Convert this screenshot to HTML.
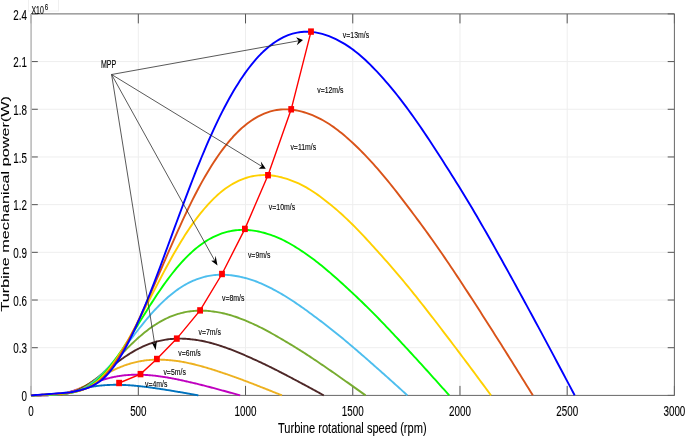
<!DOCTYPE html><html><head><meta charset="utf-8"><style>html,body{margin:0;padding:0;background:#fff;width:685px;height:437px;overflow:hidden}svg{display:block;filter:blur(0.3px)}</style></head><body>
<svg width="685" height="437" viewBox="0 0 685 437" font-family="Liberation Sans, sans-serif">
<rect width="685" height="437" fill="#fff"/>
<rect x="28.5" y="-1" width="30" height="12" fill="none" stroke="#f0f0f0" stroke-width="1"/>
<path d="M138.32 13.90V395.40M245.53 13.90V395.40M352.75 13.90V395.40M459.97 13.90V395.40M567.18 13.90V395.40M31.10 347.71H674.40M31.10 300.02H674.40M31.10 252.34H674.40M31.10 204.65H674.40M31.10 156.96H674.40M31.10 109.27H674.40M31.10 61.59H674.40" stroke="#eeeeee" stroke-width="1" fill="none"/>
<path d="M31.10 395.40v-9.50M31.10 13.90v9.50M138.32 395.40v-9.50M138.32 13.90v9.50M245.53 395.40v-9.50M245.53 13.90v9.50M352.75 395.40v-9.50M352.75 13.90v9.50M459.97 395.40v-9.50M459.97 13.90v9.50M567.18 395.40v-9.50M567.18 13.90v9.50M674.40 395.40v-9.50M674.40 13.90v9.50M31.10 395.40h6.70M674.40 395.40h-6.70M31.10 347.71h6.70M674.40 347.71h-6.70M31.10 300.02h6.70M674.40 300.02h-6.70M31.10 252.34h6.70M674.40 252.34h-6.70M31.10 204.65h6.70M674.40 204.65h-6.70M31.10 156.96h6.70M674.40 156.96h-6.70M31.10 109.27h6.70M674.40 109.27h-6.70M31.10 61.59h6.70M674.40 61.59h-6.70M31.10 13.90h6.70M674.40 13.90h-6.70" stroke="#555" stroke-width="1" fill="none"/>
<path d="M31.10 13.90H674.40V395.40H31.10" stroke="#666" stroke-width="1" fill="none"/>
<path d="M31.10 13.90V395.40" stroke="#bbb" stroke-width="1.6" fill="none"/>
<polyline points="31.10,395.40 31.80,395.39 32.50,395.39 33.20,395.38 33.90,395.38 34.60,395.37 35.30,395.37 36.00,395.36 36.70,395.36 37.40,395.35 38.10,395.35 38.80,395.34 39.50,395.34 40.20,395.33 40.90,395.33 41.60,395.32 42.30,395.32 43.00,395.31 43.70,395.30 44.40,395.29 45.10,395.27 45.80,395.26 46.50,395.24 47.19,395.22 47.89,395.20 48.59,395.18 49.29,395.15 49.99,395.12 50.69,395.09 51.39,395.05 52.09,395.00 52.79,394.95 53.49,394.89 54.19,394.83 54.89,394.76 55.59,394.68 56.29,394.59 56.99,394.50 57.69,394.40 58.39,394.30 59.09,394.19 59.79,394.07 60.49,393.95 61.19,393.83 61.89,393.69 62.59,393.56 63.29,393.41 63.99,393.27 64.69,393.12 65.39,392.96 66.09,392.80 66.79,392.64 67.49,392.48 68.19,392.31 68.89,392.14 69.59,391.96 70.29,391.79 70.99,391.61 71.69,391.43 72.39,391.25 73.09,391.07 73.79,390.89 74.49,390.71 75.19,390.53 75.89,390.35 76.59,390.17 77.29,389.99 77.99,389.81 78.68,389.64 79.38,389.46 80.08,389.29 80.78,389.12 81.48,388.95 82.18,388.78 82.88,388.62 83.58,388.46 84.28,388.30 84.98,388.14 85.68,387.99 86.38,387.84 87.08,387.69 87.78,387.55 88.48,387.41 89.18,387.27 89.88,387.14 90.58,387.01 91.28,386.89 91.98,386.77 92.68,386.65 93.38,386.53 94.08,386.42 94.78,386.32 95.48,386.21 96.18,386.12 96.88,386.02 97.58,385.93 98.28,385.84 98.98,385.75 99.68,385.67 100.38,385.60 101.08,385.52 101.78,385.46 102.48,385.39 103.18,385.33 103.88,385.27 104.58,385.22 105.28,385.17 105.98,385.12 106.68,385.08 107.38,385.04 108.08,385.00 108.78,384.97 109.48,384.93 110.17,384.91 110.87,384.88 111.57,384.86 112.27,384.85 112.97,384.83 113.67,384.82 114.37,384.81 115.07,384.81 115.77,384.80 116.47,384.81 117.17,384.81 117.87,384.82 118.57,384.83 119.27,384.84 119.97,384.85 120.67,384.87 121.37,384.89 122.07,384.91 122.77,384.94 123.47,384.96 124.17,384.99 124.87,385.02 125.57,385.06 126.27,385.09 126.97,385.13 127.67,385.17 128.37,385.21 129.07,385.25 129.77,385.30 130.47,385.35 131.17,385.40 131.87,385.45 132.57,385.51 133.27,385.57 133.97,385.63 134.67,385.69 135.37,385.76 136.07,385.83 136.77,385.89 137.47,385.96 138.17,386.03 138.87,386.11 139.57,386.18 140.27,386.26 140.97,386.33 141.66,386.41 142.36,386.49 143.06,386.57 143.76,386.66 144.46,386.74 145.16,386.83 145.86,386.91 146.56,387.00 147.26,387.09 147.96,387.18 148.66,387.28 149.36,387.37 150.06,387.46 150.76,387.56 151.46,387.66 152.16,387.76 152.86,387.86 153.56,387.96 154.26,388.06 154.96,388.16 155.66,388.26 156.36,388.36 157.06,388.46 157.76,388.57 158.46,388.67 159.16,388.77 159.86,388.88 160.56,388.98 161.26,389.09 161.96,389.20 162.66,389.30 163.36,389.41 164.06,389.52 164.76,389.63 165.46,389.74 166.16,389.85 166.86,389.96 167.56,390.07 168.26,390.18 168.96,390.30 169.66,390.41 170.36,390.53 171.06,390.64 171.76,390.76 172.46,390.87 173.15,390.99 173.85,391.11 174.55,391.23 175.25,391.35 175.95,391.47 176.65,391.58 177.35,391.70 178.05,391.82 178.75,391.94 179.45,392.06 180.15,392.19 180.85,392.31 181.55,392.43 182.25,392.55 182.95,392.67 183.65,392.79 184.35,392.91 185.05,393.04 185.75,393.16 186.45,393.28 187.15,393.41 187.85,393.53 188.55,393.65 189.25,393.78 189.95,393.90 190.65,394.02 191.35,394.15 192.05,394.27 192.75,394.40 193.45,394.52 194.15,394.65 194.85,394.77 195.55,394.90 196.25,395.02 196.95,395.15 197.65,395.27 198.35,395.40" fill="none" stroke="#0072BD" stroke-width="1.9" stroke-linejoin="round"/>
<polyline points="31.10,395.40 31.97,395.39 32.85,395.38 33.72,395.37 34.60,395.36 35.47,395.35 36.35,395.34 37.22,395.33 38.10,395.32 38.97,395.31 39.85,395.30 40.72,395.29 41.60,395.28 42.47,395.27 43.35,395.26 44.22,395.25 45.10,395.24 45.97,395.23 46.85,395.21 47.72,395.18 48.59,395.15 49.47,395.12 50.34,395.09 51.22,395.05 52.09,395.01 52.97,394.97 53.84,394.91 54.72,394.85 55.59,394.79 56.47,394.71 57.34,394.62 58.22,394.52 59.09,394.41 59.97,394.28 60.84,394.15 61.72,393.99 62.59,393.83 63.46,393.65 64.34,393.46 65.21,393.25 66.09,393.04 66.96,392.81 67.84,392.57 68.71,392.33 69.59,392.07 70.46,391.80 71.34,391.52 72.21,391.24 73.09,390.94 73.96,390.64 74.84,390.33 75.71,390.01 76.59,389.69 77.46,389.36 78.34,389.02 79.21,388.68 80.08,388.34 80.96,387.99 81.83,387.64 82.71,387.29 83.58,386.94 84.46,386.59 85.33,386.24 86.21,385.89 87.08,385.53 87.96,385.18 88.83,384.84 89.71,384.49 90.58,384.14 91.46,383.80 92.33,383.46 93.21,383.13 94.08,382.80 94.95,382.47 95.83,382.15 96.70,381.84 97.58,381.53 98.45,381.22 99.33,380.92 100.20,380.63 101.08,380.35 101.95,380.07 102.83,379.79 103.70,379.53 104.58,379.27 105.45,379.02 106.33,378.77 107.20,378.54 108.08,378.31 108.95,378.09 109.83,377.87 110.70,377.66 111.57,377.46 112.45,377.27 113.32,377.08 114.20,376.90 115.07,376.73 115.95,376.56 116.82,376.40 117.70,376.25 118.57,376.11 119.45,375.98 120.32,375.85 121.20,375.73 122.07,375.62 122.95,375.51 123.82,375.41 124.70,375.32 125.57,375.24 126.44,375.16 127.32,375.09 128.19,375.02 129.07,374.96 129.94,374.91 130.82,374.86 131.69,374.82 132.57,374.79 133.44,374.76 134.32,374.74 135.19,374.72 136.07,374.71 136.94,374.71 137.82,374.71 138.69,374.72 139.57,374.73 140.44,374.75 141.32,374.77 142.19,374.80 143.06,374.83 143.94,374.87 144.81,374.92 145.69,374.96 146.56,375.02 147.44,375.07 148.31,375.13 149.19,375.20 150.06,375.27 150.94,375.34 151.81,375.42 152.69,375.50 153.56,375.58 154.44,375.67 155.31,375.77 156.19,375.87 157.06,375.98 157.93,376.09 158.81,376.20 159.68,376.32 160.56,376.44 161.43,376.57 162.31,376.70 163.18,376.83 164.06,376.97 164.93,377.11 165.81,377.25 166.68,377.40 167.56,377.54 168.43,377.69 169.31,377.85 170.18,378.00 171.06,378.16 171.93,378.32 172.81,378.49 173.68,378.65 174.55,378.82 175.43,379.00 176.30,379.17 177.18,379.35 178.05,379.53 178.93,379.71 179.80,379.90 180.68,380.09 181.55,380.28 182.43,380.47 183.30,380.66 184.18,380.86 185.05,381.06 185.93,381.25 186.80,381.45 187.68,381.65 188.55,381.85 189.42,382.06 190.30,382.26 191.17,382.46 192.05,382.66 192.92,382.87 193.80,383.07 194.67,383.28 195.55,383.49 196.42,383.70 197.30,383.91 198.17,384.12 199.05,384.34 199.92,384.55 200.80,384.77 201.67,384.99 202.55,385.21 203.42,385.43 204.30,385.66 205.17,385.88 206.04,386.11 206.92,386.33 207.79,386.56 208.67,386.79 209.54,387.02 210.42,387.25 211.29,387.48 212.17,387.71 213.04,387.95 213.92,388.18 214.79,388.42 215.67,388.65 216.54,388.89 217.42,389.12 218.29,389.36 219.17,389.59 220.04,389.83 220.91,390.07 221.79,390.31 222.66,390.55 223.54,390.78 224.41,391.02 225.29,391.26 226.16,391.50 227.04,391.74 227.91,391.99 228.79,392.23 229.66,392.47 230.54,392.71 231.41,392.95 232.29,393.20 233.16,393.44 234.04,393.68 234.91,393.93 235.79,394.17 236.66,394.42 237.53,394.66 238.41,394.90 239.28,395.15 240.16,395.39" fill="none" stroke="#BF00BF" stroke-width="1.9" stroke-linejoin="round"/>
<polyline points="31.10,395.40 32.15,395.38 33.20,395.37 34.25,395.35 35.30,395.33 36.35,395.31 37.40,395.30 38.45,395.28 39.50,395.26 40.55,395.25 41.60,395.23 42.65,395.21 43.70,395.19 44.75,395.18 45.80,395.16 46.85,395.14 47.89,395.13 48.94,395.11 49.99,395.06 51.04,395.02 52.09,394.97 53.14,394.92 54.19,394.86 55.24,394.80 56.29,394.73 57.34,394.65 58.39,394.56 59.44,394.46 60.49,394.34 61.54,394.21 62.59,394.05 63.64,393.88 64.69,393.69 65.74,393.47 66.79,393.23 67.84,392.97 68.89,392.68 69.94,392.37 70.99,392.04 72.04,391.69 73.09,391.32 74.14,390.93 75.19,390.52 76.24,390.09 77.29,389.64 78.34,389.18 79.38,388.70 80.43,388.21 81.48,387.70 82.53,387.17 83.58,386.64 84.63,386.09 85.68,385.53 86.73,384.96 87.78,384.38 88.83,383.79 89.88,383.20 90.93,382.60 91.98,382.00 93.03,381.39 94.08,380.78 95.13,380.18 96.18,379.57 97.23,378.96 98.28,378.35 99.33,377.75 100.38,377.15 101.43,376.55 102.48,375.95 103.53,375.36 104.58,374.78 105.63,374.20 106.68,373.63 107.73,373.06 108.78,372.51 109.83,371.96 110.87,371.43 111.92,370.90 112.97,370.38 114.02,369.88 115.07,369.39 116.12,368.90 117.17,368.43 118.22,367.97 119.27,367.53 120.32,367.09 121.37,366.67 122.42,366.26 123.47,365.86 124.52,365.48 125.57,365.11 126.62,364.75 127.67,364.40 128.72,364.06 129.77,363.74 130.82,363.43 131.87,363.13 132.92,362.85 133.97,362.58 135.02,362.32 136.07,362.07 137.12,361.84 138.17,361.62 139.22,361.41 140.27,361.22 141.32,361.04 142.36,360.87 143.41,360.71 144.46,360.56 145.51,360.42 146.56,360.30 147.61,360.18 148.66,360.08 149.71,359.99 150.76,359.91 151.81,359.84 152.86,359.78 153.91,359.73 154.96,359.69 156.01,359.66 157.06,359.65 158.11,359.64 159.16,359.64 160.21,359.66 161.26,359.68 162.31,359.71 163.36,359.75 164.41,359.80 165.46,359.86 166.51,359.93 167.56,360.00 168.61,360.09 169.66,360.18 170.71,360.27 171.76,360.38 172.81,360.49 173.85,360.61 174.90,360.74 175.95,360.87 177.00,361.01 178.05,361.16 179.10,361.31 180.15,361.48 181.20,361.65 182.25,361.83 183.30,362.02 184.35,362.22 185.40,362.43 186.45,362.64 187.50,362.86 188.55,363.08 189.60,363.32 190.65,363.55 191.70,363.79 192.75,364.04 193.80,364.29 194.85,364.54 195.90,364.80 196.95,365.07 198.00,365.34 199.05,365.61 200.10,365.89 201.15,366.17 202.20,366.46 203.25,366.76 204.30,367.06 205.34,367.36 206.39,367.67 207.44,367.98 208.49,368.30 209.54,368.62 210.59,368.94 211.64,369.27 212.69,369.60 213.74,369.94 214.79,370.27 215.84,370.61 216.89,370.96 217.94,371.30 218.99,371.65 220.04,371.99 221.09,372.34 222.14,372.69 223.19,373.04 224.24,373.39 225.29,373.75 226.34,374.10 227.39,374.46 228.44,374.82 229.49,375.18 230.54,375.55 231.59,375.92 232.64,376.29 233.69,376.66 234.74,377.04 235.79,377.41 236.83,377.79 237.88,378.18 238.93,378.56 239.98,378.95 241.03,379.34 242.08,379.73 243.13,380.13 244.18,380.52 245.23,380.92 246.28,381.32 247.33,381.72 248.38,382.12 249.43,382.52 250.48,382.93 251.53,383.33 252.58,383.74 253.63,384.14 254.68,384.55 255.73,384.96 256.78,385.37 257.83,385.78 258.88,386.19 259.93,386.60 260.98,387.01 262.03,387.42 263.08,387.84 264.13,388.25 265.18,388.67 266.23,389.08 267.28,389.50 268.32,389.92 269.37,390.33 270.42,390.75 271.47,391.17 272.52,391.59 273.57,392.01 274.62,392.43 275.67,392.85 276.72,393.28 277.77,393.70 278.82,394.12 279.87,394.54 280.92,394.97 281.97,395.39" fill="none" stroke="#EDB120" stroke-width="1.9" stroke-linejoin="round"/>
<polyline points="31.10,395.40 32.32,395.37 33.55,395.35 34.77,395.32 36.00,395.29 37.22,395.26 38.45,395.24 39.67,395.21 40.90,395.18 42.12,395.15 43.35,395.13 44.57,395.10 45.80,395.07 47.02,395.05 48.24,395.02 49.47,394.99 50.69,394.96 51.92,394.94 53.14,394.87 54.37,394.79 55.59,394.71 56.82,394.63 58.04,394.54 59.27,394.44 60.49,394.33 61.72,394.21 62.94,394.07 64.16,393.90 65.39,393.72 66.61,393.51 67.84,393.26 69.06,392.99 70.29,392.68 71.51,392.34 72.74,391.96 73.96,391.54 75.19,391.08 76.41,390.59 77.64,390.07 78.86,389.51 80.08,388.92 81.31,388.30 82.53,387.65 83.76,386.97 84.98,386.26 86.21,385.52 87.43,384.76 88.66,383.98 89.88,383.17 91.11,382.34 92.33,381.49 93.56,380.61 94.78,379.73 96.00,378.82 97.23,377.90 98.45,376.97 99.68,376.03 100.90,375.08 102.13,374.12 103.35,373.16 104.58,372.19 105.80,371.23 107.03,370.26 108.25,369.29 109.48,368.33 110.70,367.37 111.92,366.41 113.15,365.46 114.37,364.52 115.60,363.58 116.82,362.65 118.05,361.73 119.27,360.82 120.50,359.93 121.72,359.05 122.95,358.18 124.17,357.33 125.40,356.49 126.62,355.68 127.84,354.87 129.07,354.09 130.29,353.32 131.52,352.58 132.74,351.85 133.97,351.14 135.19,350.45 136.42,349.78 137.64,349.13 138.87,348.50 140.09,347.89 141.32,347.30 142.54,346.73 143.76,346.17 144.99,345.64 146.21,345.13 147.44,344.63 148.66,344.16 149.89,343.71 151.11,343.28 152.34,342.87 153.56,342.48 154.79,342.11 156.01,341.76 157.23,341.43 158.46,341.12 159.68,340.83 160.91,340.56 162.13,340.31 163.36,340.07 164.58,339.86 165.81,339.66 167.03,339.48 168.26,339.31 169.48,339.17 170.71,339.04 171.93,338.93 173.15,338.83 174.38,338.76 175.60,338.70 176.83,338.65 178.05,338.63 179.28,338.62 180.50,338.62 181.73,338.64 182.95,338.68 184.18,338.73 185.40,338.80 186.63,338.88 187.85,338.97 189.07,339.07 190.30,339.19 191.52,339.32 192.75,339.47 193.97,339.62 195.20,339.79 196.42,339.97 197.65,340.15 198.87,340.35 200.10,340.57 201.32,340.79 202.55,341.02 203.77,341.27 204.99,341.53 206.22,341.81 207.44,342.10 208.67,342.40 209.89,342.72 211.12,343.04 212.34,343.38 213.57,343.73 214.79,344.08 216.02,344.45 217.24,344.83 218.47,345.21 219.69,345.60 220.91,345.99 222.14,346.40 223.36,346.81 224.59,347.23 225.81,347.66 227.04,348.10 228.26,348.54 229.49,348.99 230.71,349.45 231.94,349.92 233.16,350.39 234.39,350.87 235.61,351.36 236.83,351.86 238.06,352.36 239.28,352.87 240.51,353.38 241.73,353.91 242.96,354.43 244.18,354.96 245.41,355.50 246.63,356.04 247.86,356.58 249.08,357.13 250.31,357.68 251.53,358.23 252.75,358.78 253.98,359.34 255.20,359.89 256.43,360.45 257.65,361.01 258.88,361.58 260.10,362.15 261.33,362.72 262.55,363.30 263.78,363.88 265.00,364.46 266.23,365.05 267.45,365.64 268.67,366.24 269.90,366.84 271.12,367.44 272.35,368.05 273.57,368.66 274.80,369.28 276.02,369.90 277.25,370.52 278.47,371.15 279.70,371.78 280.92,372.41 282.15,373.04 283.37,373.68 284.59,374.31 285.82,374.95 287.04,375.59 288.27,376.23 289.49,376.88 290.72,377.52 291.94,378.17 293.17,378.82 294.39,379.47 295.62,380.12 296.84,380.77 298.07,381.42 299.29,382.08 300.51,382.73 301.74,383.39 302.96,384.05 304.19,384.71 305.41,385.37 306.64,386.03 307.86,386.69 309.09,387.36 310.31,388.02 311.54,388.69 312.76,389.35 313.99,390.02 315.21,390.69 316.43,391.36 317.66,392.03 318.88,392.70 320.11,393.37 321.33,394.04 322.56,394.71 323.78,395.38" fill="none" stroke="#4D2727" stroke-width="1.9" stroke-linejoin="round"/>
<polyline points="31.10,395.40 32.50,395.36 33.90,395.32 35.30,395.28 36.70,395.24 38.10,395.20 39.50,395.16 40.90,395.12 42.30,395.07 43.70,395.03 45.10,394.99 46.50,394.95 47.89,394.91 49.29,394.87 50.69,394.83 52.09,394.79 53.49,394.75 54.89,394.71 56.29,394.61 57.69,394.49 59.09,394.37 60.49,394.25 61.89,394.12 63.29,393.97 64.69,393.81 66.09,393.62 67.49,393.41 68.89,393.17 70.29,392.89 71.69,392.57 73.09,392.21 74.49,391.80 75.89,391.34 77.29,390.83 78.68,390.26 80.08,389.64 81.48,388.96 82.88,388.22 84.28,387.44 85.68,386.61 87.08,385.73 88.48,384.80 89.88,383.83 91.28,382.81 92.68,381.75 94.08,380.66 95.48,379.52 96.88,378.35 98.28,377.14 99.68,375.90 101.08,374.63 102.48,373.33 103.88,372.00 105.28,370.65 106.68,369.28 108.08,367.89 109.48,366.48 110.87,365.06 112.27,363.63 113.67,362.20 115.07,360.76 116.47,359.32 117.87,357.87 119.27,356.43 120.67,354.99 122.07,353.56 123.47,352.13 124.87,350.71 126.27,349.30 127.67,347.90 129.07,346.51 130.47,345.14 131.87,343.79 133.27,342.45 134.67,341.13 136.07,339.84 137.47,338.57 138.87,337.33 140.27,336.10 141.66,334.91 143.06,333.74 144.46,332.59 145.86,331.48 147.26,330.39 148.66,329.33 150.06,328.30 151.46,327.30 152.86,326.33 154.26,325.39 155.66,324.48 157.06,323.60 158.46,322.74 159.86,321.92 161.26,321.12 162.66,320.36 164.06,319.62 165.46,318.91 166.86,318.24 168.26,317.60 169.66,316.98 171.06,316.40 172.46,315.85 173.85,315.33 175.25,314.84 176.65,314.38 178.05,313.94 179.45,313.54 180.85,313.16 182.25,312.81 183.65,312.49 185.05,312.19 186.45,311.92 187.85,311.68 189.25,311.46 190.65,311.27 192.05,311.10 193.45,310.96 194.85,310.85 196.25,310.76 197.65,310.69 199.05,310.65 200.45,310.64 201.85,310.65 203.25,310.68 204.64,310.73 206.04,310.81 207.44,310.91 208.84,311.02 210.24,311.16 211.64,311.32 213.04,311.50 214.44,311.69 215.84,311.91 217.24,312.14 218.64,312.39 220.04,312.65 221.44,312.93 222.84,313.23 224.24,313.55 225.64,313.88 227.04,314.23 228.44,314.60 229.84,314.99 231.24,315.41 232.64,315.84 234.04,316.29 235.44,316.76 236.83,317.25 238.23,317.75 239.63,318.27 241.03,318.80 242.43,319.35 243.83,319.91 245.23,320.48 246.63,321.06 248.03,321.65 249.43,322.26 250.83,322.87 252.23,323.50 253.63,324.14 255.03,324.79 256.43,325.45 257.83,326.12 259.23,326.81 260.63,327.51 262.03,328.22 263.43,328.93 264.83,329.66 266.23,330.40 267.62,331.15 269.02,331.91 270.42,332.68 271.82,333.46 273.22,334.25 274.62,335.04 276.02,335.84 277.42,336.65 278.82,337.46 280.22,338.27 281.62,339.09 283.02,339.91 284.42,340.74 285.82,341.57 287.22,342.40 288.62,343.23 290.02,344.07 291.42,344.91 292.82,345.76 294.22,346.62 295.62,347.48 297.02,348.34 298.42,349.22 299.81,350.09 301.21,350.98 302.61,351.87 304.01,352.77 305.41,353.67 306.81,354.58 308.21,355.49 309.61,356.41 311.01,357.34 312.41,358.26 313.81,359.20 315.21,360.14 316.61,361.08 318.01,362.02 319.41,362.97 320.81,363.92 322.21,364.88 323.61,365.83 325.01,366.79 326.41,367.75 327.81,368.72 329.21,369.68 330.60,370.65 332.00,371.62 333.40,372.59 334.80,373.56 336.20,374.54 337.60,375.52 339.00,376.49 340.40,377.47 341.80,378.46 343.20,379.44 344.60,380.43 346.00,381.41 347.40,382.40 348.80,383.39 350.20,384.38 351.60,385.38 353.00,386.37 354.40,387.37 355.80,388.37 357.20,389.37 358.60,390.37 360.00,391.37 361.40,392.37 362.79,393.37 364.19,394.37 365.59,395.37" fill="none" stroke="#77AC30" stroke-width="1.9" stroke-linejoin="round"/>
<polyline points="31.10,395.40 32.67,395.34 34.25,395.28 35.82,395.23 37.40,395.17 38.97,395.11 40.55,395.05 42.12,394.99 43.70,394.94 45.27,394.88 46.85,394.82 48.42,394.76 49.99,394.70 51.57,394.65 53.14,394.59 54.72,394.53 56.29,394.47 57.87,394.41 59.44,394.27 61.02,394.11 62.59,393.94 64.16,393.76 65.74,393.57 67.31,393.36 68.89,393.13 70.46,392.87 72.04,392.56 73.61,392.22 75.19,391.82 76.76,391.37 78.34,390.86 79.91,390.28 81.48,389.62 83.06,388.89 84.63,388.08 86.21,387.19 87.78,386.22 89.36,385.18 90.93,384.06 92.51,382.88 94.08,381.63 95.65,380.31 97.23,378.92 98.80,377.48 100.38,375.97 101.95,374.41 103.53,372.79 105.10,371.12 106.68,369.40 108.25,367.63 109.83,365.83 111.40,363.98 112.97,362.09 114.55,360.17 116.12,358.21 117.70,356.23 119.27,354.22 120.85,352.20 122.42,350.17 124.00,348.12 125.57,346.07 127.14,344.02 128.72,341.97 130.29,339.92 131.87,337.87 133.44,335.82 135.02,333.79 136.59,331.77 138.17,329.76 139.74,327.77 141.32,325.79 142.89,323.84 144.46,321.91 146.04,320.01 147.61,318.14 149.19,316.29 150.76,314.49 152.34,312.71 153.91,310.97 155.49,309.27 157.06,307.60 158.63,305.97 160.21,304.38 161.78,302.83 163.36,301.32 164.93,299.86 166.51,298.44 168.08,297.05 169.66,295.72 171.23,294.42 172.81,293.16 174.38,291.95 175.95,290.78 177.53,289.64 179.10,288.55 180.68,287.50 182.25,286.50 183.83,285.54 185.40,284.62 186.98,283.75 188.55,282.92 190.12,282.13 191.70,281.39 193.27,280.69 194.85,280.04 196.42,279.42 198.00,278.85 199.57,278.31 201.15,277.81 202.72,277.35 204.30,276.93 205.87,276.54 207.44,276.19 209.02,275.88 210.59,275.61 212.17,275.37 213.74,275.17 215.32,275.01 216.89,274.89 218.47,274.79 220.04,274.74 221.61,274.72 223.19,274.73 224.76,274.77 226.34,274.85 227.91,274.96 229.49,275.10 231.06,275.26 232.64,275.46 234.21,275.69 235.79,275.94 237.36,276.22 238.93,276.52 240.51,276.85 242.08,277.21 243.66,277.58 245.23,277.98 246.81,278.41 248.38,278.86 249.96,279.33 251.53,279.83 253.10,280.36 254.68,280.92 256.25,281.50 257.83,282.12 259.40,282.76 260.98,283.43 262.55,284.12 264.13,284.84 265.70,285.58 267.28,286.34 268.85,287.11 270.42,287.91 272.00,288.72 273.57,289.55 275.15,290.40 276.72,291.26 278.30,292.13 279.87,293.03 281.45,293.93 283.02,294.86 284.59,295.80 286.17,296.76 287.74,297.74 289.32,298.73 290.89,299.74 292.47,300.76 294.04,301.80 295.62,302.86 297.19,303.92 298.77,305.00 300.34,306.10 301.91,307.21 303.49,308.33 305.06,309.46 306.64,310.60 308.21,311.75 309.79,312.90 311.36,314.06 312.94,315.23 314.51,316.40 316.08,317.57 317.66,318.75 319.23,319.93 320.81,321.12 322.38,322.32 323.96,323.52 325.53,324.72 327.11,325.94 328.68,327.17 330.26,328.40 331.83,329.64 333.40,330.89 334.98,332.15 336.55,333.42 338.13,334.70 339.70,335.98 341.28,337.27 342.85,338.58 344.43,339.89 346.00,341.20 347.57,342.53 349.15,343.86 350.72,345.19 352.30,346.53 353.87,347.88 355.45,349.23 357.02,350.58 358.60,351.94 360.17,353.30 361.75,354.66 363.32,356.03 364.89,357.41 366.47,358.78 368.04,360.16 369.62,361.54 371.19,362.92 372.77,364.31 374.34,365.70 375.92,367.09 377.49,368.48 379.06,369.88 380.64,371.28 382.21,372.68 383.79,374.08 385.36,375.48 386.94,376.89 388.51,378.30 390.09,379.71 391.66,381.13 393.24,382.55 394.81,383.97 396.38,385.39 397.96,386.81 399.53,388.23 401.11,389.66 402.68,391.08 404.26,392.51 405.83,393.93 407.41,395.36" fill="none" stroke="#4DBEEE" stroke-width="1.9" stroke-linejoin="round"/>
<polyline points="31.10,395.40 32.85,395.32 34.60,395.24 36.35,395.16 38.10,395.08 39.85,395.00 41.60,394.92 43.35,394.84 45.10,394.76 46.85,394.68 48.59,394.60 50.34,394.53 52.09,394.45 53.84,394.37 55.59,394.29 57.34,394.21 59.09,394.13 60.84,394.05 62.59,393.85 64.34,393.63 66.09,393.40 67.84,393.16 69.59,392.89 71.34,392.61 73.09,392.29 74.84,391.92 76.59,391.51 78.34,391.04 80.08,390.49 81.83,389.88 83.58,389.17 85.33,388.37 87.08,387.48 88.83,386.47 90.58,385.36 92.33,384.14 94.08,382.81 95.83,381.38 97.58,379.85 99.33,378.22 101.08,376.50 102.83,374.70 104.58,372.80 106.33,370.81 108.08,368.75 109.83,366.60 111.57,364.38 113.32,362.09 115.07,359.73 116.82,357.31 118.57,354.83 120.32,352.29 122.07,349.71 123.82,347.07 125.57,344.39 127.32,341.67 129.07,338.92 130.82,336.14 132.57,333.35 134.32,330.55 136.07,327.74 137.82,324.92 139.57,322.11 141.32,319.29 143.06,316.48 144.81,313.68 146.56,310.89 148.31,308.11 150.06,305.36 151.81,302.63 153.56,299.92 155.31,297.24 157.06,294.59 158.81,291.98 160.56,289.41 162.31,286.89 164.06,284.41 165.81,281.97 167.56,279.59 169.31,277.25 171.06,274.96 172.81,272.73 174.55,270.55 176.30,268.42 178.05,266.35 179.80,264.34 181.55,262.39 183.30,260.50 185.05,258.66 186.80,256.88 188.55,255.16 190.30,253.49 192.05,251.88 193.80,250.33 195.55,248.83 197.30,247.39 199.05,246.01 200.80,244.70 202.55,243.44 204.30,242.24 206.04,241.10 207.79,240.02 209.54,239.01 211.29,238.05 213.04,237.15 214.79,236.31 216.54,235.52 218.29,234.78 220.04,234.10 221.79,233.47 223.54,232.88 225.29,232.36 227.04,231.88 228.79,231.45 230.54,231.08 232.29,230.75 234.04,230.48 235.79,230.26 237.53,230.09 239.28,229.96 241.03,229.88 242.78,229.85 244.53,229.87 246.28,229.93 248.03,230.03 249.78,230.18 251.53,230.37 253.28,230.60 255.03,230.88 256.78,231.18 258.53,231.53 260.28,231.91 262.03,232.33 263.78,232.78 265.53,233.27 267.28,233.79 269.02,234.34 270.77,234.92 272.52,235.53 274.27,236.18 276.02,236.87 277.77,237.60 279.52,238.36 281.27,239.16 283.02,240.00 284.77,240.88 286.52,241.80 288.27,242.75 290.02,243.74 291.77,244.75 293.52,245.79 295.27,246.86 297.02,247.95 298.77,249.07 300.51,250.20 302.26,251.36 304.01,252.54 305.76,253.74 307.51,254.97 309.26,256.22 311.01,257.49 312.76,258.78 314.51,260.09 316.26,261.43 318.01,262.80 319.76,264.18 321.51,265.58 323.26,267.01 325.01,268.45 326.76,269.92 328.51,271.40 330.26,272.90 332.00,274.42 333.75,275.96 335.50,277.51 337.25,279.07 339.00,280.65 340.75,282.23 342.50,283.82 344.25,285.42 346.00,287.03 347.75,288.64 349.50,290.26 351.25,291.88 353.00,293.51 354.75,295.15 356.50,296.79 358.25,298.45 360.00,300.12 361.75,301.80 363.49,303.49 365.24,305.20 366.99,306.91 368.74,308.64 370.49,310.38 372.24,312.13 373.99,313.89 375.74,315.67 377.49,317.45 379.24,319.25 380.99,321.05 382.74,322.87 384.49,324.69 386.24,326.53 387.99,328.37 389.74,330.21 391.49,332.06 393.24,333.92 394.98,335.78 396.73,337.65 398.48,339.52 400.23,341.40 401.98,343.28 403.73,345.17 405.48,347.06 407.23,348.95 408.98,350.85 410.73,352.75 412.48,354.66 414.23,356.56 415.98,358.47 417.73,360.39 419.48,362.31 421.23,364.23 422.98,366.15 424.73,368.08 426.47,370.01 428.22,371.95 429.97,373.88 431.72,375.82 433.47,377.77 435.22,379.71 436.97,381.66 438.72,383.61 440.47,385.57 442.22,387.52 443.97,389.48 445.72,391.43 447.47,393.39 449.22,395.35" fill="none" stroke="#00FF00" stroke-width="1.9" stroke-linejoin="round"/>
<polyline points="31.10,395.40 33.02,395.29 34.95,395.19 36.87,395.08 38.80,394.98 40.72,394.87 42.65,394.76 44.57,394.66 46.50,394.55 48.42,394.45 50.34,394.34 52.27,394.24 54.19,394.13 56.12,394.02 58.04,393.92 59.97,393.81 61.89,393.71 63.81,393.60 65.74,393.34 67.66,393.04 69.59,392.74 71.51,392.41 73.44,392.07 75.36,391.68 77.29,391.26 79.21,390.77 81.13,390.22 83.06,389.59 84.98,388.87 86.91,388.05 88.83,387.11 90.76,386.05 92.68,384.85 94.60,383.52 96.53,382.04 98.45,380.41 100.38,378.65 102.30,376.74 104.23,374.70 106.15,372.54 108.08,370.25 110.00,367.84 111.92,365.31 113.85,362.67 115.77,359.92 117.70,357.07 119.62,354.12 121.55,351.07 123.47,347.93 125.40,344.71 127.32,341.40 129.24,338.03 131.17,334.58 133.09,331.07 135.02,327.50 136.94,323.88 138.87,320.22 140.79,316.53 142.71,312.81 144.64,309.08 146.56,305.34 148.49,301.59 150.41,297.84 152.34,294.10 154.26,290.36 156.19,286.63 158.11,282.92 160.03,279.22 161.96,275.56 163.88,271.92 165.81,268.31 167.73,264.75 169.66,261.22 171.58,257.75 173.50,254.33 175.43,250.97 177.35,247.67 179.28,244.43 181.20,241.25 183.13,238.14 185.05,235.10 186.98,232.12 188.90,229.22 190.82,226.39 192.75,223.64 194.67,220.96 196.60,218.36 198.52,215.84 200.45,213.40 202.37,211.03 204.30,208.74 206.22,206.52 208.14,204.38 210.07,202.31 211.99,200.32 213.92,198.40 215.84,196.57 217.77,194.81 219.69,193.14 221.61,191.54 223.54,190.03 225.46,188.59 227.39,187.24 229.31,185.97 231.24,184.77 233.16,183.65 235.09,182.60 237.01,181.62 238.93,180.71 240.86,179.87 242.78,179.09 244.71,178.39 246.63,177.75 248.56,177.19 250.48,176.69 252.40,176.26 254.33,175.89 256.25,175.60 258.18,175.37 260.10,175.20 262.03,175.10 263.95,175.06 265.88,175.08 267.80,175.16 269.72,175.30 271.65,175.50 273.57,175.75 275.50,176.06 277.42,176.42 279.35,176.83 281.27,177.29 283.19,177.80 285.12,178.36 287.04,178.96 288.97,179.60 290.89,180.29 292.82,181.02 294.74,181.80 296.67,182.62 298.59,183.48 300.51,184.40 302.44,185.36 304.36,186.38 306.29,187.45 308.21,188.57 310.14,189.74 312.06,190.96 313.99,192.23 315.91,193.54 317.83,194.89 319.76,196.27 321.68,197.69 323.61,199.15 325.53,200.63 327.46,202.14 329.38,203.69 331.30,205.26 333.23,206.86 335.15,208.49 337.08,210.15 339.00,211.84 340.93,213.56 342.85,215.31 344.78,217.09 346.70,218.90 348.62,220.75 350.55,222.62 352.47,224.51 354.40,226.43 356.32,228.38 358.25,230.36 360.17,232.36 362.09,234.38 364.02,236.42 365.94,238.49 367.87,240.57 369.79,242.66 371.72,244.77 373.64,246.89 375.57,249.02 377.49,251.16 379.41,253.30 381.34,255.45 383.26,257.61 385.19,259.78 387.11,261.96 389.04,264.16 390.96,266.36 392.89,268.58 394.81,270.82 396.73,273.07 398.66,275.34 400.58,277.62 402.51,279.92 404.43,282.24 406.36,284.57 408.28,286.91 410.20,289.27 412.13,291.65 414.05,294.04 415.98,296.45 417.90,298.86 419.83,301.29 421.75,303.73 423.68,306.18 425.60,308.63 427.52,311.10 429.45,313.57 431.37,316.05 433.30,318.53 435.22,321.03 437.15,323.52 439.07,326.03 440.99,328.54 442.92,331.06 444.84,333.58 446.77,336.10 448.69,338.63 450.62,341.17 452.54,343.71 454.47,346.25 456.39,348.80 458.31,351.35 460.24,353.91 462.16,356.47 464.09,359.04 466.01,361.61 467.94,364.18 469.86,366.76 471.79,369.35 473.71,371.93 475.63,374.52 477.56,377.12 479.48,379.71 481.41,382.31 483.33,384.91 485.26,387.52 487.18,390.12 489.10,392.72 491.03,395.33" fill="none" stroke="#FFD000" stroke-width="1.9" stroke-linejoin="round"/>
<polyline points="31.10,395.40 33.20,395.26 35.30,395.13 37.40,394.99 39.50,394.85 41.60,394.71 43.70,394.58 45.80,394.44 47.89,394.30 49.99,394.16 52.09,394.03 54.19,393.89 56.29,393.75 58.39,393.61 60.49,393.48 62.59,393.34 64.69,393.20 66.79,393.06 68.89,392.72 70.99,392.34 73.09,391.94 75.19,391.52 77.29,391.07 79.38,390.57 81.48,390.02 83.58,389.39 85.68,388.68 87.78,387.86 89.88,386.92 91.98,385.85 94.08,384.64 96.18,383.26 98.28,381.71 100.38,379.97 102.48,378.05 104.58,375.94 106.68,373.65 108.78,371.17 110.87,368.53 112.97,365.72 115.07,362.75 117.17,359.62 119.27,356.34 121.37,352.91 123.47,349.34 125.57,345.64 127.67,341.80 129.77,337.84 131.87,333.77 133.97,329.59 136.07,325.30 138.17,320.91 140.27,316.44 142.36,311.88 144.46,307.25 146.56,302.55 148.66,297.80 150.76,293.01 152.86,288.18 154.96,283.34 157.06,278.48 159.16,273.61 161.26,268.75 163.36,263.88 165.46,259.03 167.56,254.18 169.66,249.36 171.76,244.57 173.85,239.81 175.95,235.09 178.05,230.40 180.15,225.77 182.25,221.20 184.35,216.69 186.45,212.26 188.55,207.89 190.65,203.60 192.75,199.40 194.85,195.27 196.95,191.24 199.05,187.28 201.15,183.42 203.25,179.65 205.34,175.98 207.44,172.41 209.54,168.93 211.64,165.56 213.74,162.29 215.84,159.11 217.94,156.04 220.04,153.06 222.14,150.18 224.24,147.40 226.34,144.72 228.44,142.13 230.54,139.65 232.64,137.26 234.74,134.98 236.83,132.81 238.93,130.74 241.03,128.77 243.13,126.91 245.23,125.15 247.33,123.50 249.43,121.94 251.53,120.49 253.63,119.12 255.73,117.85 257.83,116.67 259.93,115.58 262.03,114.57 264.13,113.66 266.23,112.83 268.32,112.10 270.42,111.45 272.52,110.89 274.62,110.42 276.72,110.04 278.82,109.74 280.92,109.52 283.02,109.39 285.12,109.33 287.22,109.36 289.32,109.47 291.42,109.65 293.52,109.91 295.62,110.23 297.72,110.63 299.81,111.10 301.91,111.64 304.01,112.23 306.11,112.90 308.21,113.62 310.31,114.40 312.41,115.24 314.51,116.13 316.61,117.08 318.71,118.09 320.81,119.15 322.91,120.28 325.01,121.46 327.11,122.71 329.21,124.03 331.30,125.42 333.40,126.87 335.50,128.40 337.60,129.98 339.70,131.63 341.80,133.33 343.90,135.08 346.00,136.88 348.10,138.72 350.20,140.61 352.30,142.53 354.40,144.50 356.50,146.50 358.60,148.54 360.70,150.62 362.79,152.73 364.89,154.89 366.99,157.08 369.09,159.32 371.19,161.59 373.29,163.91 375.39,166.26 377.49,168.65 379.59,171.08 381.69,173.54 383.79,176.04 385.89,178.57 387.99,181.13 390.09,183.73 392.19,186.35 394.28,189.01 396.38,191.69 398.48,194.39 400.58,197.11 402.68,199.85 404.78,202.60 406.88,205.36 408.98,208.14 411.08,210.92 413.18,213.71 415.28,216.52 417.38,219.33 419.48,222.16 421.58,225.01 423.68,227.87 425.77,230.76 427.87,233.66 429.97,236.58 432.07,239.53 434.17,242.49 436.27,245.48 438.37,248.48 440.47,251.51 442.57,254.55 444.67,257.62 446.77,260.71 448.87,263.81 450.97,266.93 453.07,270.07 455.17,273.22 457.26,276.39 459.36,279.56 461.46,282.75 463.56,285.95 465.66,289.16 467.76,292.38 469.86,295.61 471.96,298.84 474.06,302.09 476.16,305.34 478.26,308.60 480.36,311.86 482.46,315.14 484.56,318.42 486.66,321.70 488.75,324.99 490.85,328.29 492.95,331.59 495.05,334.90 497.15,338.22 499.25,341.54 501.35,344.86 503.45,348.19 505.55,351.53 507.65,354.87 509.75,358.22 511.85,361.57 513.95,364.93 516.05,368.30 518.15,371.66 520.24,375.03 522.34,378.41 524.44,381.78 526.54,385.16 528.64,388.54 530.74,391.92 532.84,395.31" fill="none" stroke="#D95319" stroke-width="1.9" stroke-linejoin="round"/>
<polyline points="31.10,395.40 33.37,395.23 35.65,395.05 37.92,394.88 40.20,394.70 42.47,394.53 44.75,394.35 47.02,394.18 49.29,394.00 51.57,393.83 53.84,393.65 56.12,393.48 58.39,393.30 60.67,393.13 62.94,392.95 65.21,392.78 67.49,392.60 69.76,392.43 72.04,391.99 74.31,391.50 76.59,391.00 78.86,390.47 81.13,389.90 83.41,389.26 85.68,388.56 87.96,387.76 90.23,386.85 92.51,385.81 94.78,384.62 97.05,383.26 99.33,381.71 101.60,379.96 103.88,377.99 106.15,375.79 108.43,373.35 110.70,370.66 112.97,367.74 115.25,364.60 117.52,361.24 119.80,357.66 122.07,353.89 124.35,349.91 126.62,345.74 128.89,341.38 131.17,336.84 133.44,332.13 135.72,327.26 137.99,322.22 140.27,317.04 142.54,311.72 144.81,306.27 147.09,300.70 149.36,295.01 151.64,289.22 153.91,283.33 156.19,277.35 158.46,271.31 160.73,265.21 163.01,259.08 165.28,252.92 167.56,246.74 169.83,240.56 172.11,234.37 174.38,228.19 176.65,222.01 178.93,215.86 181.20,209.73 183.48,203.63 185.75,197.58 188.03,191.57 190.30,185.62 192.57,179.74 194.85,173.92 197.12,168.19 199.40,162.55 201.67,157.00 203.95,151.55 206.22,146.20 208.49,140.96 210.77,135.82 213.04,130.80 215.32,125.89 217.59,121.10 219.87,116.43 222.14,111.88 224.41,107.46 226.69,103.18 228.96,99.02 231.24,94.98 233.51,91.07 235.79,87.29 238.06,83.63 240.33,80.09 242.61,76.68 244.88,73.39 247.16,70.23 249.43,67.20 251.70,64.30 253.98,61.54 256.25,58.91 258.53,56.41 260.80,54.04 263.08,51.81 265.35,49.70 267.62,47.72 269.90,45.87 272.17,44.14 274.45,42.52 276.72,41.02 279.00,39.63 281.27,38.35 283.54,37.19 285.82,36.14 288.09,35.21 290.37,34.38 292.64,33.67 294.92,33.07 297.19,32.58 299.46,32.20 301.74,31.93 304.01,31.76 306.29,31.69 308.56,31.72 310.84,31.86 313.11,32.09 315.38,32.42 317.66,32.84 319.93,33.35 322.21,33.94 324.48,34.62 326.76,35.38 329.03,36.22 331.30,37.14 333.58,38.13 335.85,39.20 338.13,40.33 340.40,41.54 342.68,42.82 344.95,44.17 347.22,45.60 349.50,47.11 351.77,48.70 354.05,50.38 356.32,52.14 358.60,53.99 360.87,55.93 363.14,57.94 365.42,60.04 367.69,62.20 369.97,64.43 372.24,66.71 374.52,69.06 376.79,71.46 379.06,73.90 381.34,76.40 383.61,78.95 385.89,81.54 388.16,84.18 390.44,86.87 392.71,89.61 394.98,92.40 397.26,95.24 399.53,98.13 401.81,101.08 404.08,104.07 406.36,107.11 408.63,110.19 410.90,113.32 413.18,116.50 415.45,119.71 417.73,122.97 420.00,126.28 422.28,129.61 424.55,132.99 426.82,136.40 429.10,139.83 431.37,143.29 433.65,146.77 435.92,150.27 438.20,153.78 440.47,157.31 442.74,160.85 445.02,164.40 447.29,167.96 449.57,171.54 451.84,175.14 454.12,178.76 456.39,182.40 458.66,186.07 460.94,189.76 463.21,193.48 465.49,197.22 467.76,200.99 470.04,204.79 472.31,208.61 474.58,212.45 476.86,216.33 479.13,220.22 481.41,224.15 483.68,228.10 485.96,232.06 488.23,236.05 490.50,240.06 492.78,244.08 495.05,248.12 497.33,252.18 499.60,256.25 501.88,260.33 504.15,264.42 506.42,268.52 508.70,272.64 510.97,276.76 513.25,280.89 515.52,285.04 517.80,289.19 520.07,293.35 522.34,297.52 524.62,301.70 526.89,305.88 529.17,310.08 531.44,314.28 533.72,318.48 535.99,322.70 538.26,326.92 540.54,331.14 542.81,335.38 545.09,339.62 547.36,343.87 549.64,348.13 551.91,352.39 554.18,356.66 556.46,360.94 558.73,365.22 561.01,369.51 563.28,373.80 565.56,378.09 567.83,382.38 570.10,386.68 572.38,390.98 574.65,395.28" fill="none" stroke="#0000FF" stroke-width="1.9" stroke-linejoin="round"/>
<polyline points="119.10,383.00 140.50,374.10 156.90,359.00 176.80,338.60 200.10,310.40 222.00,274.00 244.90,228.90 268.00,175.20 291.20,109.30 311.00,31.60" fill="none" stroke="#FF0000" stroke-width="1.4"/>
<rect x="116.20" y="379.80" width="5.8" height="6.4" fill="#FF0000"/>
<rect x="137.60" y="370.90" width="5.8" height="6.4" fill="#FF0000"/>
<rect x="154.00" y="355.80" width="5.8" height="6.4" fill="#FF0000"/>
<rect x="173.90" y="335.40" width="5.8" height="6.4" fill="#FF0000"/>
<rect x="197.20" y="307.20" width="5.8" height="6.4" fill="#FF0000"/>
<rect x="219.10" y="270.80" width="5.8" height="6.4" fill="#FF0000"/>
<rect x="242.00" y="225.70" width="5.8" height="6.4" fill="#FF0000"/>
<rect x="265.10" y="172.00" width="5.8" height="6.4" fill="#FF0000"/>
<rect x="288.30" y="106.10" width="5.8" height="6.4" fill="#FF0000"/>
<rect x="308.10" y="28.40" width="5.8" height="6.4" fill="#FF0000"/>
<path d="M111.60 74.50L298.56 40.80" stroke="#222" stroke-width="0.75" fill="none"/>
<path d="M303.00 40.00L296.82 45.15L298.56 40.80L296.12 37.21Z" fill="#000"/>
<path d="M111.60 74.50L261.68 166.28" stroke="#222" stroke-width="0.75" fill="none"/>
<path d="M265.80 168.80L258.65 168.78L261.68 166.28L260.85 161.42Z" fill="#000"/>
<path d="M111.60 74.50L214.72 260.58" stroke="#222" stroke-width="0.75" fill="none"/>
<path d="M217.50 265.60L211.22 260.71L214.72 260.58L215.61 255.75Z" fill="#000"/>
<path d="M111.60 74.50L154.70 343.96" stroke="#222" stroke-width="0.75" fill="none"/>
<path d="M155.70 350.20L151.50 341.93L154.70 343.96L156.96 340.15Z" fill="#000"/>
<text transform="translate(145.00 386.90) scale(0.720 1)" font-size="9.60" text-anchor="start" fill="#000" stroke="#000" stroke-width="0.12">v=4m/s</text>
<text transform="translate(163.40 374.90) scale(0.720 1)" font-size="9.60" text-anchor="start" fill="#000" stroke="#000" stroke-width="0.12">v=5m/s</text>
<text transform="translate(178.30 356.40) scale(0.720 1)" font-size="9.60" text-anchor="start" fill="#000" stroke="#000" stroke-width="0.12">v=6m/s</text>
<text transform="translate(198.50 335.10) scale(0.720 1)" font-size="9.60" text-anchor="start" fill="#000" stroke="#000" stroke-width="0.12">v=7m/s</text>
<text transform="translate(222.00 301.40) scale(0.720 1)" font-size="9.60" text-anchor="start" fill="#000" stroke="#000" stroke-width="0.12">v=8m/s</text>
<text transform="translate(247.90 258.10) scale(0.720 1)" font-size="9.60" text-anchor="start" fill="#000" stroke="#000" stroke-width="0.12">v=9m/s</text>
<text transform="translate(268.80 210.40) scale(0.720 1)" font-size="9.60" text-anchor="start" fill="#000" stroke="#000" stroke-width="0.12">v=10m/s</text>
<text transform="translate(290.40 149.80) scale(0.720 1)" font-size="9.60" text-anchor="start" fill="#000" stroke="#000" stroke-width="0.12">v=11m/s</text>
<text transform="translate(317.20 92.70) scale(0.720 1)" font-size="9.60" text-anchor="start" fill="#000" stroke="#000" stroke-width="0.12">v=12m/s</text>
<text transform="translate(342.80 38.00) scale(0.720 1)" font-size="9.60" text-anchor="start" fill="#000" stroke="#000" stroke-width="0.12">v=13m/s</text>
<text transform="translate(100.90 67.90) scale(0.685 1)" font-size="10.30" text-anchor="start" fill="#000" stroke="#000" stroke-width="0.12">MPP</text>
<text transform="translate(27.00 401.00) scale(0.660 1)" font-size="14.90" text-anchor="end" fill="#000" stroke="#000" stroke-width="0.12">0</text>
<text transform="translate(27.00 353.31) scale(0.660 1)" font-size="14.90" text-anchor="end" fill="#000" stroke="#000" stroke-width="0.12">0.3</text>
<text transform="translate(27.00 305.62) scale(0.660 1)" font-size="14.90" text-anchor="end" fill="#000" stroke="#000" stroke-width="0.12">0.6</text>
<text transform="translate(27.00 257.94) scale(0.660 1)" font-size="14.90" text-anchor="end" fill="#000" stroke="#000" stroke-width="0.12">0.9</text>
<text transform="translate(27.00 210.25) scale(0.660 1)" font-size="14.90" text-anchor="end" fill="#000" stroke="#000" stroke-width="0.12">1.2</text>
<text transform="translate(27.00 162.56) scale(0.660 1)" font-size="14.90" text-anchor="end" fill="#000" stroke="#000" stroke-width="0.12">1.5</text>
<text transform="translate(27.00 114.87) scale(0.660 1)" font-size="14.90" text-anchor="end" fill="#000" stroke="#000" stroke-width="0.12">1.8</text>
<text transform="translate(27.00 67.19) scale(0.660 1)" font-size="14.90" text-anchor="end" fill="#000" stroke="#000" stroke-width="0.12">2.1</text>
<text transform="translate(27.00 19.50) scale(0.660 1)" font-size="14.90" text-anchor="end" fill="#000" stroke="#000" stroke-width="0.12">2.4</text>
<text transform="translate(31.10 415.50) scale(0.660 1)" font-size="14.90" text-anchor="middle" fill="#000" stroke="#000" stroke-width="0.12">0</text>
<text transform="translate(138.32 415.50) scale(0.660 1)" font-size="14.90" text-anchor="middle" fill="#000" stroke="#000" stroke-width="0.12">500</text>
<text transform="translate(245.53 415.50) scale(0.660 1)" font-size="14.90" text-anchor="middle" fill="#000" stroke="#000" stroke-width="0.12">1000</text>
<text transform="translate(352.75 415.50) scale(0.660 1)" font-size="14.90" text-anchor="middle" fill="#000" stroke="#000" stroke-width="0.12">1500</text>
<text transform="translate(459.97 415.50) scale(0.660 1)" font-size="14.90" text-anchor="middle" fill="#000" stroke="#000" stroke-width="0.12">2000</text>
<text transform="translate(567.18 415.50) scale(0.660 1)" font-size="14.90" text-anchor="middle" fill="#000" stroke="#000" stroke-width="0.12">2500</text>
<text transform="translate(674.40 415.50) scale(0.660 1)" font-size="14.90" text-anchor="middle" fill="#000" stroke="#000" stroke-width="0.12">3000</text>
<text transform="translate(352.30 432.80) scale(0.720 1)" font-size="15.40" text-anchor="middle" fill="#000" stroke="#000" stroke-width="0.12">Turbine rotational speed (rpm)</text>
<text transform="translate(8.6 203.8) rotate(-90) scale(1 0.69)" font-size="16.2" text-anchor="middle" fill="#000" stroke="#000" stroke-width="0.12">Turbine mechanical power(W)</text>
<text transform="translate(31.50 13.90) scale(0.680 1)" font-size="10.20" text-anchor="start" fill="#000" stroke="#000" stroke-width="0.12">X10</text>
<text transform="translate(44.70 9.50) scale(0.680 1)" font-size="9.00" text-anchor="start" fill="#000" stroke="#000" stroke-width="0.12">6</text>
</svg></body></html>
